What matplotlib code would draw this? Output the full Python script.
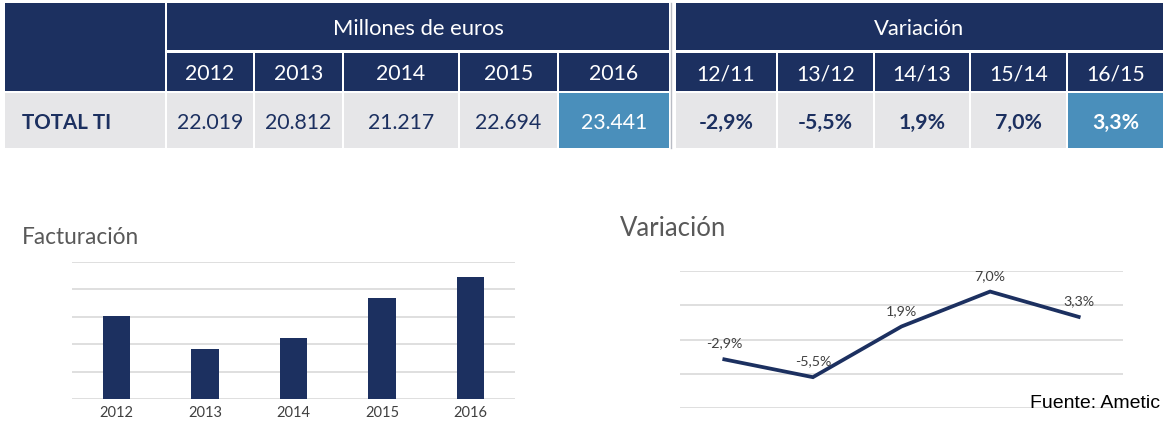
import matplotlib
matplotlib.use("Agg")
import matplotlib.pyplot as plt
from matplotlib.patches import Rectangle
import numpy as np

# ---------------- data ----------------
years = ["2012", "2013", "2014", "2015", "2016"]
facturacion = [22019, 20812, 21217, 22694, 23441]          # millones de euros
var_labels = ["12/11", "13/12", "14/13", "15/14", "16/15"]
variacion = [-2.9, -5.5, 1.9, 7.0, 3.3]                     # %
row_label = "TOTAL TI"
header_left = "Millones de euros"
header_right = "Variación"
title_left = "Facturación"
title_right = "Variación"
source = "Fuente: Ametic"

# ---------------- style ----------------
NAVY = "#1c3060"
BLUE = "#4a8fbb"
LIGHT = "#e6e6e8"
GRID = "#d9d9d9"
FONT = ["Lato", "DejaVu Sans"]
plt.rcParams["font.family"] = FONT

W, H = 1170, 425
fig = plt.figure(figsize=(W / 100, H / 100), dpi=100)

# ---------------- table (pixel coordinates) ----------------
tab = fig.add_axes([0, 0, 1, 1])
tab.set_xlim(0, W)
tab.set_ylim(H, 0)
tab.axis("off")

left_cols = [(167, 253), (255, 342), (344, 458), (460, 557), (559, 669)]
right_cols = [(676, 776), (778, 873), (875, 969), (971, 1066), (1068, 1163)]
R1 = (3, 50)
R2 = (53, 91)
R3 = (93, 148)
TFS = 15.3


def cell(x0, x1, y0, y1, color, text=None, tcolor="white", bold=False, ha="center",
         tx=None, fs=TFS):
    tab.add_patch(Rectangle((x0, y0), x1 - x0, y1 - y0, facecolor=color,
                            edgecolor="none"))
    if text is not None:
        xx = (x0 + x1) / 2 if tx is None else tx
        tab.text(xx, (y0 + y1) / 2, text, ha=ha, va="center_baseline",
                 color=tcolor, fontsize=fs,
                 fontweight="bold" if bold else "normal")


def fmt_int(v):
    return f"{v:,}".replace(",", ".")


def fmt_pct(v):
    return f"{v:.1f}".replace(".", ",") + "%"


# top-left block
cell(5, 165, R1[0], R2[1], NAVY)
# group headers
cell(167, 669, R1[0], R1[1], NAVY, header_left, fs=15.8)
cell(676, 1163, R1[0], R1[1], NAVY, header_right, fs=15.8)
# sub headers + values
for i, ((x0, x1), y, v) in enumerate(zip(left_cols, years, facturacion)):
    cell(x0, x1, R2[0], R2[1], NAVY, y)
    last = i == len(years) - 1
    cell(x0, x1, R3[0], R3[1], BLUE if last else LIGHT, fmt_int(v),
         tcolor="white" if last else NAVY)
for i, ((x0, x1), lab, v) in enumerate(zip(right_cols, var_labels, variacion)):
    cell(x0, x1, R2[0], R2[1], NAVY, lab)
    last = i == len(var_labels) - 1
    cell(x0, x1, R3[0], R3[1], BLUE if last else LIGHT, fmt_pct(v),
         tcolor="white" if last else NAVY, bold=True)
# row label
cell(5, 165, R3[0], R3[1], LIGHT, row_label, tcolor=NAVY, bold=True,
     ha="left", tx=22, fs=14.8)
# separator double line
tab.plot([671, 671], [R1[0], R3[1]], color="#b9bcc4", lw=1)

# ---------------- bar chart ----------------
def axes_px(x0, x1, ytop, ybot):
    return fig.add_axes([x0 / W, 1 - ybot / H, (x1 - x0) / W, (ybot - ytop) / H])


ax1 = axes_px(72, 515, 262, 399)
xs = np.arange(len(years))
ax1.bar(xs, facturacion, width=0.31, color=NAVY, zorder=3)
ax1.set_ylim(19000, 24000)
ax1.set_xlim(-0.5, len(years) - 0.5)
ax1.set_yticks(np.arange(19000, 24001, 1000))
ax1.yaxis.grid(True, color=GRID, lw=1.2)
ax1.set_yticklabels([])
ax1.tick_params(axis="y", length=0)
ax1.set_xticks(xs)
ax1.set_xticklabels(years, fontsize=10.5, color="#404040")
ax1.tick_params(axis="x", length=0, pad=5)
for s in ax1.spines.values():
    s.set_visible(False)
ax1.set_facecolor("none")

fig.text(22 / W, 1 - 237 / H, title_left, fontsize=16.3, color="#595959",
         va="center", ha="left")

# ---------------- line chart ----------------
ax2 = axes_px(680, 1123, 271, 408)
ax2.plot(xs, variacion, color=NAVY, lw=2.7, solid_joinstyle="miter", zorder=3)
ax2.set_ylim(-10, 10)
ax2.set_xlim(-0.5, len(var_labels) - 0.5)
ax2.set_yticks(np.arange(-10, 10.1, 5))
ax2.yaxis.grid(True, color=GRID, lw=1.2)
ax2.set_yticklabels([])
ax2.set_xticks([])
ax2.tick_params(length=0)
for s in ax2.spines.values():
    s.set_visible(False)
ax2.set_facecolor("none")
for x, v in zip(xs, variacion):
    ax2.annotate(fmt_pct(v), (x, v), xytext=(0, 7), textcoords="offset points",
                 ha="center", va="bottom", fontsize=10.3, color="#404040")

fig.text(620 / W, 1 - 228 / H, title_right, fontsize=18.5, color="#595959",
         va="center", ha="left")

fig.text(1160 / W, 1 - 403 / H, source, fontsize=14, color="black",
         family=["Liberation Sans", "DejaVu Sans"], ha="right", va="center")

fig.savefig("out.png", dpi=100)
